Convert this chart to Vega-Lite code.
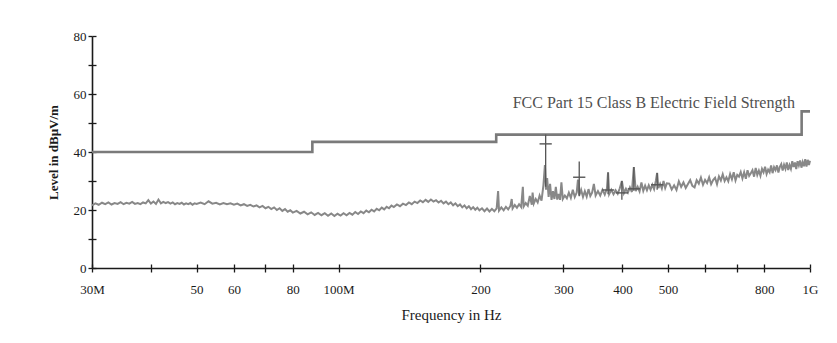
{
  "$schema": "https://vega.github.io/schema/vega-lite/v6.json",
  "width": 718,
  "height": 232,
  "autosize": {"type": "none"},
  "padding": {"left": 92, "top": 36, "right": 27, "bottom": 75},
  "background": "white",
  "config": {
    "view": {"stroke": null},
    "font": "Liberation Serif",
    "axis": {"labelFont": "Liberation Serif", "titleFont": "Liberation Serif", "domainColor": "#1a1a1a", "tickColor": "#1a1a1a", "labelColor": "#1a1a1a", "titleColor": "#1a1a1a", "grid": false, "domainWidth": 1.6, "tickWidth": 1.3}
  },
  "datasets": {
    "limit": [
      {"freq": 30, "level": 40},
      {"freq": 88, "level": 43.5},
      {"freq": 216, "level": 46},
      {"freq": 960, "level": 54},
      {"freq": 1000, "level": 54}
    ],
    "trace": [
      {"freq": 30, "level": 21.6}, {"freq": 30.5, "level": 22.3}, {"freq": 31, "level": 21.8}, {"freq": 31.5, "level": 22.5}, {"freq": 32, "level": 22.0}, {"freq": 32.5, "level": 22.6}, {"freq": 33, "level": 21.9}, {"freq": 33.5, "level": 22.4}, {"freq": 34, "level": 22.1}, {"freq": 34.5, "level": 22.7}, {"freq": 35, "level": 22.0}, {"freq": 35.5, "level": 22.5}, {"freq": 36, "level": 22.2}, {"freq": 36.5, "level": 22.8}, {"freq": 37, "level": 22.1}, {"freq": 37.5, "level": 22.4}, {"freq": 38, "level": 22.0}, {"freq": 38.5, "level": 22.6}, {"freq": 39, "level": 22.3}, {"freq": 39.5, "level": 23.4}, {"freq": 40, "level": 22.2}, {"freq": 40.5, "level": 22.9}, {"freq": 41, "level": 22.1}, {"freq": 41.5, "level": 23.6}, {"freq": 42, "level": 22.3}, {"freq": 42.5, "level": 22.8}, {"freq": 43, "level": 22.4}, {"freq": 43.5, "level": 22.7}, {"freq": 44, "level": 22.2}, {"freq": 44.5, "level": 22.6}, {"freq": 45, "level": 22.0}, {"freq": 45.5, "level": 22.4}, {"freq": 46, "level": 22.1}, {"freq": 46.5, "level": 22.5}, {"freq": 47, "level": 21.9}, {"freq": 47.5, "level": 22.3}, {"freq": 48, "level": 22.0}, {"freq": 48.5, "level": 22.4}, {"freq": 49, "level": 21.8}, {"freq": 49.5, "level": 22.3}, {"freq": 50, "level": 22.1},
      {"freq": 51, "level": 22.6}, {"freq": 52, "level": 22.0}, {"freq": 53, "level": 23.0}, {"freq": 54, "level": 22.2}, {"freq": 55, "level": 22.5}, {"freq": 56, "level": 21.9}, {"freq": 57, "level": 22.4}, {"freq": 58, "level": 22.0}, {"freq": 59, "level": 22.3}, {"freq": 60, "level": 21.8}, {"freq": 61, "level": 22.2}, {"freq": 62, "level": 21.6}, {"freq": 63, "level": 22.0}, {"freq": 64, "level": 21.4}, {"freq": 65, "level": 21.8}, {"freq": 66, "level": 21.2}, {"freq": 67, "level": 21.6}, {"freq": 68, "level": 20.9}, {"freq": 69, "level": 21.4}, {"freq": 70, "level": 20.6}, {"freq": 71, "level": 21.1}, {"freq": 72, "level": 20.3}, {"freq": 73, "level": 20.9}, {"freq": 74, "level": 20.0}, {"freq": 75, "level": 20.6}, {"freq": 76, "level": 19.7}, {"freq": 77, "level": 20.3}, {"freq": 78, "level": 19.4}, {"freq": 79, "level": 19.9}, {"freq": 80, "level": 19.1},
      {"freq": 81.5, "level": 19.7}, {"freq": 83, "level": 18.8}, {"freq": 84.5, "level": 19.4}, {"freq": 86, "level": 18.5}, {"freq": 87.5, "level": 19.2}, {"freq": 89, "level": 18.3}, {"freq": 90.5, "level": 19.0}, {"freq": 92, "level": 18.2}, {"freq": 93.5, "level": 18.9}, {"freq": 95, "level": 18.0}, {"freq": 96.5, "level": 18.8}, {"freq": 98, "level": 17.9}, {"freq": 99.5, "level": 18.7}, {"freq": 101, "level": 18.1}, {"freq": 102.5, "level": 18.9}, {"freq": 104, "level": 18.2}, {"freq": 105.5, "level": 19.0}, {"freq": 107, "level": 18.4}, {"freq": 108.5, "level": 19.3}, {"freq": 110, "level": 18.6}, {"freq": 111.5, "level": 19.5}, {"freq": 113, "level": 18.9}, {"freq": 114.5, "level": 19.8}, {"freq": 116, "level": 19.2}, {"freq": 117.5, "level": 20.1}, {"freq": 119, "level": 19.5}, {"freq": 120.5, "level": 20.4}, {"freq": 122, "level": 19.9}, {"freq": 123.5, "level": 20.8}, {"freq": 125, "level": 20.2}, {"freq": 126.5, "level": 21.1}, {"freq": 128, "level": 20.6}, {"freq": 129.5, "level": 21.5},
      {"freq": 131, "level": 21.0}, {"freq": 133, "level": 21.9}, {"freq": 135, "level": 21.3}, {"freq": 137, "level": 22.2}, {"freq": 139, "level": 21.7}, {"freq": 141, "level": 22.6}, {"freq": 143, "level": 22.0}, {"freq": 145, "level": 22.9}, {"freq": 147, "level": 22.4}, {"freq": 149, "level": 23.3}, {"freq": 151, "level": 22.7}, {"freq": 153, "level": 23.5}, {"freq": 155, "level": 22.8}, {"freq": 157, "level": 23.6}, {"freq": 159, "level": 22.9}, {"freq": 161, "level": 23.4}, {"freq": 163, "level": 22.6}, {"freq": 165, "level": 23.2}, {"freq": 167, "level": 22.3}, {"freq": 169, "level": 22.9}, {"freq": 171, "level": 22.0}, {"freq": 173, "level": 22.6}, {"freq": 175, "level": 21.6}, {"freq": 177, "level": 22.3}, {"freq": 179, "level": 21.3}, {"freq": 181, "level": 21.9}, {"freq": 183, "level": 20.9}, {"freq": 185, "level": 21.6}, {"freq": 187, "level": 20.6}, {"freq": 189, "level": 21.3}, {"freq": 191, "level": 20.3}, {"freq": 193, "level": 21.0}, {"freq": 195, "level": 20.1}, {"freq": 197, "level": 20.8}, {"freq": 199, "level": 19.9},
      {"freq": 201.5, "level": 20.6}, {"freq": 204, "level": 19.6}, {"freq": 206.5, "level": 20.5}, {"freq": 209, "level": 19.5}, {"freq": 211.5, "level": 20.4}, {"freq": 214, "level": 19.6}, {"freq": 216.5, "level": 20.6}, {"freq": 218, "level": 26.5}, {"freq": 219, "level": 19.8}, {"freq": 221.5, "level": 20.9}, {"freq": 224, "level": 19.9}, {"freq": 226.5, "level": 21.1}, {"freq": 229, "level": 20.2}, {"freq": 231.5, "level": 21.4}, {"freq": 233, "level": 23.8}, {"freq": 234, "level": 20.5}, {"freq": 236.5, "level": 21.7}, {"freq": 239, "level": 20.8}, {"freq": 241.5, "level": 22.0}, {"freq": 244, "level": 21.0}, {"freq": 246, "level": 28.0}, {"freq": 247, "level": 21.2}, {"freq": 249.5, "level": 22.4}, {"freq": 252, "level": 21.5}, {"freq": 254.5, "level": 24.8}, {"freq": 257, "level": 21.8}, {"freq": 258, "level": 26.0}, {"freq": 259.5, "level": 22.2}, {"freq": 262, "level": 23.8}, {"freq": 264.5, "level": 22.6}, {"freq": 267, "level": 25.0}, {"freq": 269.5, "level": 23.2}, {"freq": 272, "level": 28.5}, {"freq": 274, "level": 35.5}, {"freq": 275.5, "level": 27.0}, {"freq": 277, "level": 31.0}, {"freq": 279, "level": 24.5}, {"freq": 281, "level": 29.0}, {"freq": 283, "level": 23.5}, {"freq": 285, "level": 26.5}, {"freq": 287, "level": 23.8}, {"freq": 289, "level": 28.0}, {"freq": 291, "level": 23.6}, {"freq": 293, "level": 25.5}, {"freq": 295, "level": 23.5}, {"freq": 297, "level": 29.5}, {"freq": 299, "level": 23.8},
      {"freq": 302, "level": 25.0}, {"freq": 305, "level": 24.0}, {"freq": 308, "level": 26.0}, {"freq": 311, "level": 24.2}, {"freq": 314, "level": 27.0}, {"freq": 317, "level": 24.5}, {"freq": 320, "level": 26.0}, {"freq": 322, "level": 30.5}, {"freq": 324, "level": 25.0}, {"freq": 327, "level": 27.0}, {"freq": 330, "level": 24.5}, {"freq": 333, "level": 26.5}, {"freq": 336, "level": 24.6}, {"freq": 339, "level": 27.2}, {"freq": 342, "level": 24.8}, {"freq": 345, "level": 26.0}, {"freq": 348, "level": 29.0}, {"freq": 351, "level": 25.0}, {"freq": 355, "level": 26.5}, {"freq": 359, "level": 25.0}, {"freq": 363, "level": 27.0}, {"freq": 367, "level": 25.3}, {"freq": 371, "level": 27.5}, {"freq": 373, "level": 33.0}, {"freq": 375, "level": 25.5}, {"freq": 379, "level": 27.0}, {"freq": 383, "level": 25.4}, {"freq": 387, "level": 26.8}, {"freq": 391, "level": 25.6}, {"freq": 395, "level": 27.5}, {"freq": 399, "level": 30.0}, {"freq": 403, "level": 25.8}, {"freq": 407, "level": 27.3}, {"freq": 411, "level": 26.0}, {"freq": 415, "level": 27.8}, {"freq": 419, "level": 26.2}, {"freq": 423, "level": 34.8}, {"freq": 427, "level": 26.5}, {"freq": 431, "level": 28.0}, {"freq": 435, "level": 26.4}, {"freq": 439, "level": 29.5}, {"freq": 443, "level": 26.6}, {"freq": 447, "level": 28.4}, {"freq": 451, "level": 26.8}, {"freq": 455, "level": 28.5}, {"freq": 459, "level": 27.0}, {"freq": 463, "level": 28.7}, {"freq": 467, "level": 27.2}, {"freq": 471, "level": 30.0}, {"freq": 474, "level": 32.8}, {"freq": 477, "level": 27.5}, {"freq": 481, "level": 29.0}, {"freq": 485, "level": 27.4}, {"freq": 489, "level": 30.0}, {"freq": 493, "level": 27.6}, {"freq": 497, "level": 29.2},
      {"freq": 503, "level": 29.1}, {"freq": 509, "level": 27.1}, {"freq": 515, "level": 28.5}, {"freq": 521, "level": 26.9}, {"freq": 527, "level": 29.9}, {"freq": 533, "level": 28.0}, {"freq": 539, "level": 29.5}, {"freq": 545, "level": 27.6}, {"freq": 551, "level": 29.0}, {"freq": 557, "level": 30.3}, {"freq": 563, "level": 28.3}, {"freq": 569, "level": 27.8}, {"freq": 575, "level": 30.3}, {"freq": 581, "level": 29.1}, {"freq": 587, "level": 31.2}, {"freq": 593, "level": 28.7}, {"freq": 599, "level": 30.4}, {"freq": 605, "level": 29.3}, {"freq": 611, "level": 31.3}, {"freq": 617, "level": 28.9}, {"freq": 623, "level": 30.3}, {"freq": 629, "level": 31.1}, {"freq": 635, "level": 28.9}, {"freq": 641, "level": 31.6}, {"freq": 647, "level": 30.2}, {"freq": 653, "level": 32.3}, {"freq": 659, "level": 30.0}, {"freq": 665, "level": 31.3}, {"freq": 671, "level": 29.9}, {"freq": 677, "level": 32.4}, {"freq": 683, "level": 30.6}, {"freq": 689, "level": 33.0}, {"freq": 695, "level": 30.2}, {"freq": 701, "level": 32.1}, {"freq": 707, "level": 31.5}, {"freq": 713, "level": 33.1}, {"freq": 719, "level": 30.9}, {"freq": 725, "level": 33.0}, {"freq": 731, "level": 30.8}, {"freq": 737, "level": 33.7}, {"freq": 743, "level": 31.8}, {"freq": 749, "level": 32.7}, {"freq": 755, "level": 33.7}, {"freq": 761, "level": 31.5}, {"freq": 767, "level": 34.5}, {"freq": 773, "level": 32.1}, {"freq": 779, "level": 33.6}, {"freq": 785, "level": 31.8}, {"freq": 791, "level": 34.2}, {"freq": 797, "level": 33.0}, {"freq": 803, "level": 34.9}, {"freq": 809, "level": 32.4}, {"freq": 815, "level": 33.9}, {"freq": 821, "level": 33.0}, {"freq": 827, "level": 35.4}, {"freq": 833, "level": 32.7}, {"freq": 839, "level": 34.8}, {"freq": 845, "level": 33.8}, {"freq": 851, "level": 35.4}, {"freq": 857, "level": 32.9}, {"freq": 863, "level": 34.9}, {"freq": 869, "level": 35.8}, {"freq": 875, "level": 33.6}, {"freq": 881, "level": 35.6}, {"freq": 887, "level": 34.2}, {"freq": 893, "level": 36.4}, {"freq": 899, "level": 33.8}, {"freq": 905, "level": 35.5}, {"freq": 911, "level": 34.2}, {"freq": 917, "level": 36.8}, {"freq": 923, "level": 34.8}, {"freq": 929, "level": 36.4}, {"freq": 935, "level": 34.1}, {"freq": 941, "level": 36.8}, {"freq": 947, "level": 35.4}, {"freq": 953, "level": 37.1}, {"freq": 959, "level": 34.6}, {"freq": 965, "level": 36.5}, {"freq": 971, "level": 35.1}, {"freq": 977, "level": 37.5}, {"freq": 983, "level": 35.0}, {"freq": 989, "level": 37.3}, {"freq": 995, "level": 35.5}, {"freq": 1000, "level": 37.0}
    ],
    "peaks": [
      {"freq": 275, "level": 42.8, "top": 46, "bottom": 28},
      {"freq": 324, "level": 31.3, "top": 36.7, "bottom": 24.7},
      {"freq": 373, "level": 26.9, "top": 32.9, "bottom": 25.4},
      {"freq": 399, "level": 25.9, "top": 30, "bottom": 23.5},
      {"freq": 423, "level": 27.3, "top": 34.8, "bottom": 26.6},
      {"freq": 474, "level": 28.7, "top": 32.8, "bottom": 27}
    ],
    "labels": [
      {"freq": 929, "level": 57, "text": "FCC Part 15 Class B Electric Field Strength"}
    ]
  },
  "resolve": {"axis": {"x": "independent", "y": "independent"}},
  "layer": [
    {
      "data": {"name": "limit"},
      "mark": {"type": "line", "interpolate": "step-after", "color": "#7a7a7a", "strokeWidth": 2.6},
      "encoding": {
        "x": {"field": "freq", "type": "quantitative",
          "scale": {"type": "log", "domain": [30, 1000], "nice": false},
          "axis": {"orient": "bottom", "title": "Frequency in Hz", "titleFontSize": 15, "titleFontWeight": "normal", "titlePadding": 11,
            "values": [30, 40, 50, 60, 70, 80, 100, 200, 300, 400, 500, 600, 700, 800, 1000],
            "labelExpr": "datum.value == 30 ? '30M' : datum.value == 100 ? '100M' : datum.value == 1000 ? '1G' : indexof([50, 60, 80, 200, 300, 400, 500, 800], datum.value) >= 0 ? '' + datum.value : ''",
            "labelFontSize": 13, "tickSize": 4, "labelPadding": 11, "labelFlush": false, "labelOverlap": false}},
        "y": {"field": "level", "type": "quantitative",
          "scale": {"domain": [0, 80], "nice": false},
          "axis": {"orient": "left", "title": "Level in dBµV/m", "titleFontSize": 13, "titleFontWeight": "bold", "titlePadding": 13,
            "values": [0, 10, 20, 30, 40, 50, 60, 70, 80],
            "labelExpr": "datum.value % 20 == 0 ? '' + datum.value : ''",
            "labelFontSize": 13, "tickSize": 4, "labelPadding": 2}}
      }
    },
    {
      "data": {"name": "trace"},
      "mark": {"type": "line", "color": "#888888", "strokeWidth": 2},
      "encoding": {
        "x": {"field": "freq", "type": "quantitative", "axis": null},
        "y": {"field": "level", "type": "quantitative", "axis": null}
      }
    },
    {
      "data": {"name": "peaks"},
      "mark": {"type": "rule", "color": "#555555", "strokeWidth": 1.3},
      "encoding": {
        "x": {"field": "freq", "type": "quantitative",
          "axis": {"orient": "bottom", "values": [30, 40, 50, 60, 70, 80, 100, 200, 300, 400, 500, 600, 700, 800, 1000], "tickSize": -4, "labels": false, "domain": false, "title": null}},
        "y": {"field": "top", "type": "quantitative",
          "axis": {"orient": "left", "values": [0, 10, 20, 30, 40, 50, 60, 70, 80], "tickSize": -4, "labels": false, "domain": false, "title": null}},
        "y2": {"field": "bottom"}
      }
    },
    {
      "data": {"name": "peaks"},
      "mark": {"type": "point", "shape": "stroke", "filled": false, "size": 150, "color": "#555555", "strokeWidth": 1.4, "opacity": 1},
      "encoding": {
        "x": {"field": "freq", "type": "quantitative", "axis": null},
        "y": {"field": "level", "type": "quantitative", "axis": null}
      }
    },
    {
      "data": {"name": "labels"},
      "mark": {"type": "text", "align": "right", "baseline": "middle", "font": "Liberation Serif", "fontSize": 16, "color": "#505050"},
      "encoding": {
        "x": {"field": "freq", "type": "quantitative", "axis": null},
        "y": {"field": "level", "type": "quantitative", "axis": null},
        "text": {"field": "text"}
      }
    }
  ]
}
